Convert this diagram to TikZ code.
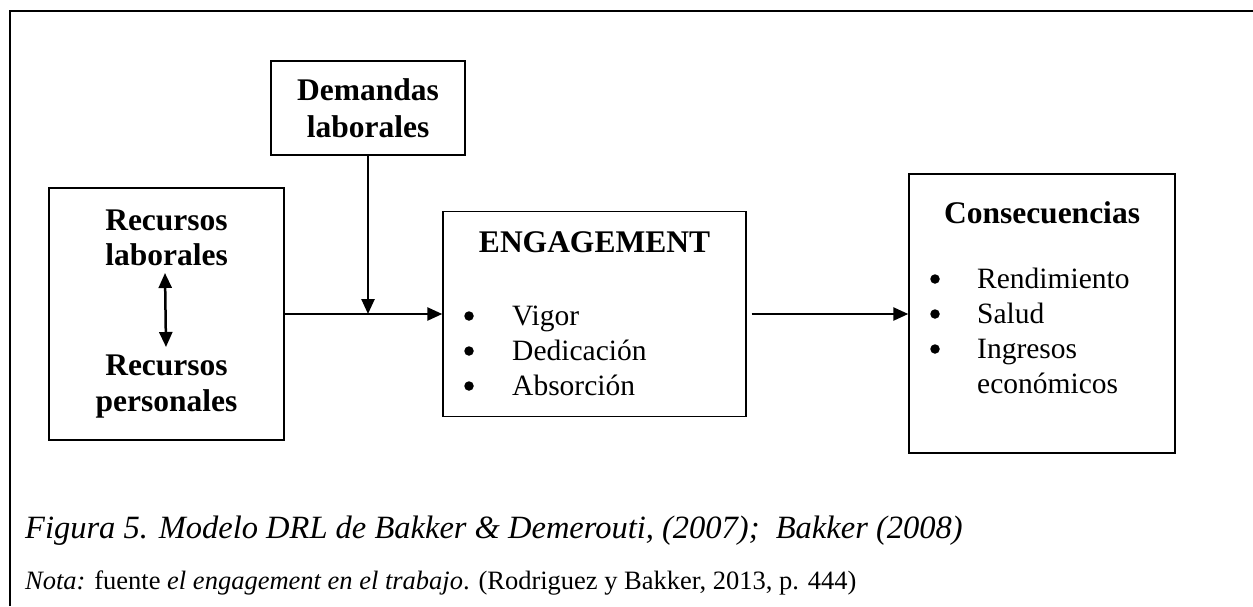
\documentclass[tikz,border=0pt]{standalone}
\usepackage{fontspec}
\setmainfont{Liberation Serif}
\usetikzlibrary{arrows.meta}

\begin{document}
\begin{tikzpicture}[x=1pt,y=-1pt,
  box/.style={draw, line width=1.4pt, rectangle, inner sep=0pt},
  head/.style={font=\fontsize{31.5}{35}\selectfont\bfseries, inner sep=0pt, anchor=base},
  item/.style={font=\fontsize{29.5}{35}\selectfont, inner sep=0pt, anchor=base west},
  dot/.style={circle, fill, inner sep=0pt, minimum size=9.5pt},
  arr/.style={line width=2.5pt, -{Triangle[length=15pt,width=13pt]}},
  dbl/.style={line width=2.5pt, {Triangle[length=15pt,width=13pt]}-{Triangle[length=15pt,width=13pt]}},
  frame/.style={line width=2.4pt}]
\useasboundingbox (0,0) rectangle (1253,606);

% outer frame (top and left edges)
\draw[frame] (10,606) -- (10,11) -- (1253,11);

% boxes
\node[box, minimum width=194pt, minimum height=94pt]  (dem) at (368,108)   {};
\node[box, minimum width=235pt, minimum height=252pt] (rec) at (166.5,314) {};
\node[box, minimum width=303pt, minimum height=205pt] (eng) at (594.5,314) {};
\node[box, minimum width=266pt, minimum height=279pt] (con) at (1042,313.5) {};

% Demandas laborales
\node[head] (demA) at (368,100) {Demandas};
\node[head] (demB) at (368,137) {laborales};

% Recursos
\node[head] (recA) at (166.5,230) {Recursos};
\node[head] (recB) at (166.5,265) {laborales};
\node[head] (recC) at (166.5,375) {Recursos};
\node[head] (recD) at (166.5,411) {personales};
\coordinate (dblA) at (165,273);
\coordinate (dblB) at (166,347);
\draw[dbl] (dblA) -- (dblB);

% ENGAGEMENT
\node[head] (engT) at (594.5,252) {ENGAGEMENT};
\node[dot]  (engD1) at (469,316) {};
\node[dot]  (engD2) at (469,351) {};
\node[dot]  (engD3) at (469,386) {};
\node[item] (engI1) at (512,325) {Vigor};
\node[item] (engI2) at (512,360) {Dedicación};
\node[item] (engI3) at (512,395) {Absorción};

% Consecuencias
\node[head] (conT) at (1042,223) {Consecuencias};
\node[dot]  (conD1) at (935,279) {};
\node[dot]  (conD2) at (935,314) {};
\node[dot]  (conD3) at (935,349) {};
\node[item] (conI1) at (977,288) {Rendimiento};
\node[item] (conI2) at (977,323) {Salud};
\node[item] (conI3) at (977,358) {Ingresos};
\node[item] (conI4) at (977,393) {económicos};

% connectors
\coordinate (join) at (dem.south |- rec.east);
\draw[line width=2.5pt] (rec.east) -- (join);
\draw[arr] (join) -- (join -| eng.west);
\draw[arr] (dem.south) -- (join);
\draw[arr, shorten <=5pt] (join -| eng.east) -- (join -| con.west);

% caption
\node[font=\fontsize{32.5}{38}\selectfont\itshape, inner sep=0pt, anchor=base west] (cap) at (25,538)
  {Figura 5. Modelo DRL de Bakker \& Demerouti, (2007);\ \ Bakker (2008)};
\node[font=\fontsize{26.5}{31}\selectfont, inner sep=0pt, anchor=base west] (nota) at (25,589)
  {\textit{Nota:} fuente \textit{el engagement en el trabajo}. (Rodriguez y Bakker, 2013, p. 444)};
\end{tikzpicture}
\end{document}
